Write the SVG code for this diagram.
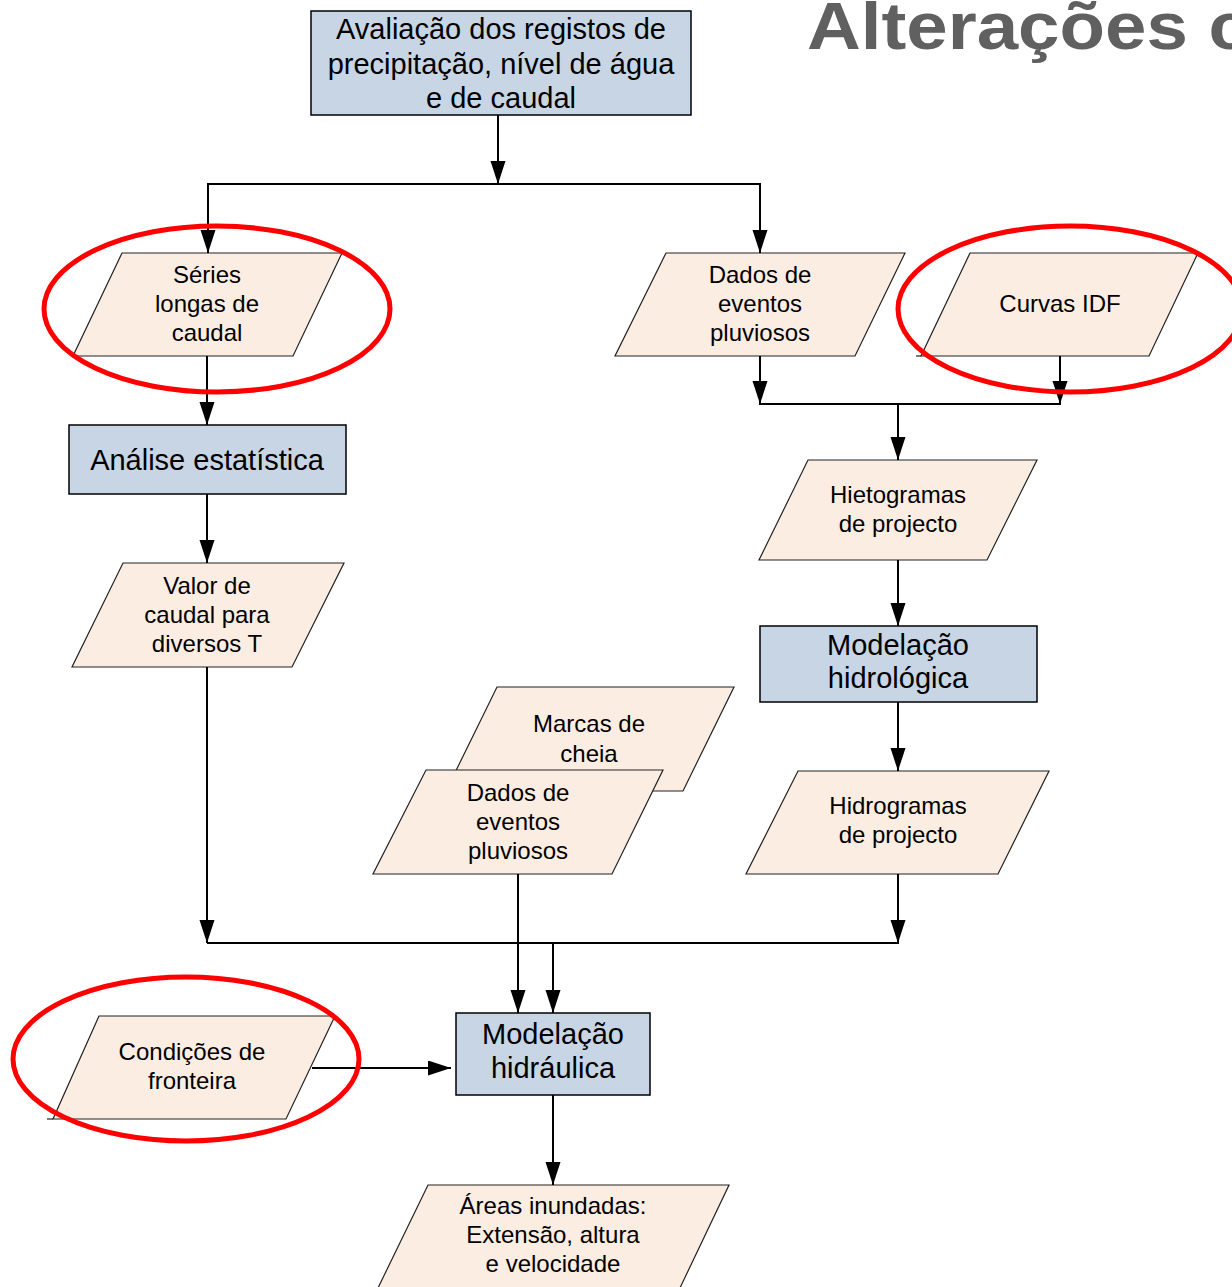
<svg xmlns="http://www.w3.org/2000/svg" width="1232" height="1287" viewBox="0 0 1232 1287">
<defs>
<marker id="arr" markerUnits="userSpaceOnUse" markerWidth="24" markerHeight="16" refX="23" refY="7.5" orient="auto">
<path d="M0,0 L23,7.5 L0,15 z" fill="#000"/>
</marker>
<style>
.box{fill:#c8d5e5;stroke:#000;stroke-width:1.5}
.para{fill:#fcede2;stroke:#222;stroke-width:1.2}
.stub{stroke:#222;stroke-width:1.2}
.bt{font-family:"Liberation Sans",Arial,sans-serif;font-size:29px;fill:#000;text-anchor:middle}
.pt{font-family:"Liberation Sans",Arial,sans-serif;font-size:24px;fill:#000;text-anchor:middle}
.con{fill:none;stroke:#000;stroke-width:2}
.ring{fill:none;stroke:#ff0000;stroke-width:5}
.title{font-family:"Liberation Sans",Arial,sans-serif;font-weight:bold;font-size:66px;fill:#606060}
</style>
</defs>
<rect width="1232" height="1287" fill="#fff"/>
<text class="title" x="807" y="49" textLength="443" lengthAdjust="spacingAndGlyphs">Alterações c</text>

<g id="n-avaliacao">
<rect class="box" x="311" y="11" width="380" height="104"/>
<text class="bt" x="501" y="39">Avaliação dos registos de</text>
<text class="bt" x="501" y="74">precipitação, nível de água</text>
<text class="bt" x="501" y="108">e de caudal</text>
</g>

<g id="n-series">
<polygon class="para" points="122,253 342,253 293,356 73,356"/>
<text class="pt" x="207" y="283">Séries</text>
<text class="pt" x="207" y="312">longas de</text>
<text class="pt" x="207" y="341">caudal</text>
</g>

<g id="n-dados1">
<polygon class="para" points="666,253 905,253 855,356 615,356"/>
<text class="pt" x="760" y="283">Dados de</text>
<text class="pt" x="760" y="312">eventos</text>
<text class="pt" x="760" y="341">pluviosos</text>
</g>

<g id="n-curvas">
<polygon class="para" points="970,253 1198,253 1149,356 921,356"/>
<line class="stub" x1="916" y1="356" x2="921" y2="356"/>
<text class="pt" x="1060" y="312">Curvas IDF</text>
</g>

<g id="n-analise">
<rect class="box" x="69" y="425" width="277" height="69"/>
<text class="bt" x="207" y="470">Análise estatística</text>
</g>

<g id="n-valor">
<polygon class="para" points="123,563 344,563 292,667 72,667"/>
<text class="pt" x="207" y="594">Valor de</text>
<text class="pt" x="207" y="623">caudal para</text>
<text class="pt" x="207" y="652">diversos T</text>
</g>

<g id="n-hietogramas">
<polygon class="para" points="808,460 1037,460 987,560 759,560"/>
<text class="pt" x="898" y="503">Hietogramas</text>
<text class="pt" x="898" y="532">de projecto</text>
</g>

<g id="n-modhidrologica">
<rect class="box" x="760" y="626" width="277" height="76"/>
<text class="bt" x="898" y="655">Modelação</text>
<text class="bt" x="898" y="688">hidrológica</text>
</g>

<g id="n-marcas">
<polygon class="para" points="497,687 734,687 683,791 446,791"/>
<text class="pt" x="589" y="732">Marcas de</text>
<text class="pt" x="589" y="762">cheia</text>
</g>

<g id="n-dados2">
<polygon class="para" points="426,770 663,770 612,874 373,874"/>
<text class="pt" x="518" y="801">Dados de</text>
<text class="pt" x="518" y="830">eventos</text>
<text class="pt" x="518" y="859">pluviosos</text>
</g>

<g id="n-hidrogramas">
<polygon class="para" points="798,771 1049,771 998,874 746,874"/>
<text class="pt" x="898" y="814">Hidrogramas</text>
<text class="pt" x="898" y="843">de projecto</text>
</g>

<g id="n-condicoes">
<polygon class="para" points="99,1016 335,1016 286,1119 53,1119"/>
<line class="stub" x1="47" y1="1119" x2="53" y2="1119"/>
<text class="pt" x="192" y="1060">Condições de</text>
<text class="pt" x="192" y="1089">fronteira</text>
</g>

<g id="n-modhidraulica">
<rect class="box" x="456" y="1013" width="194" height="82"/>
<text class="bt" x="553" y="1044">Modelação</text>
<text class="bt" x="553" y="1078">hidráulica</text>
</g>

<g id="n-areas">
<polygon class="para" points="428,1185 729,1185 679,1290 377,1290"/>
<text class="pt" x="553" y="1214">Áreas inundadas:</text>
<text class="pt" x="553" y="1243">Extensão, altura</text>
<text class="pt" x="553" y="1272">e velocidade</text>
</g>

<g id="connectors">
<path class="con" d="M498,115 V184" marker-end="url(#arr)"/>
<path class="con" d="M207,184 H761"/>
<path class="con" d="M208,184 V253" marker-end="url(#arr)"/>
<path class="con" d="M760,184 V253" marker-end="url(#arr)"/>
<path class="con" d="M207,356 V425" marker-end="url(#arr)"/>
<path class="con" d="M207,494 V563" marker-end="url(#arr)"/>
<path class="con" d="M207,667 V943" marker-end="url(#arr)"/>
<path class="con" d="M207,943 H899"/>
<path class="con" d="M760,356 V404" marker-end="url(#arr)"/>
<path class="con" d="M1060,356 V404" marker-end="url(#arr)"/>
<path class="con" d="M759,404 H1061"/>
<path class="con" d="M898,404 V460" marker-end="url(#arr)"/>
<path class="con" d="M898,560 V626" marker-end="url(#arr)"/>
<path class="con" d="M898,702 V771" marker-end="url(#arr)"/>
<path class="con" d="M898,874 V943" marker-end="url(#arr)"/>
<path class="con" d="M518,874 V1013" marker-end="url(#arr)"/>
<path class="con" d="M553,943 V1013" marker-end="url(#arr)"/>
<path class="con" d="M312,1068 H451" marker-end="url(#arr)"/>
<path class="con" d="M553,1095 V1185" marker-end="url(#arr)"/>
</g>

<g id="highlights">
<ellipse class="ring" cx="217" cy="309" rx="173" ry="83"/>
<ellipse class="ring" cx="1070" cy="309" rx="172" ry="83"/>
<ellipse class="ring" cx="186" cy="1059" rx="173" ry="82"/>
</g>
</svg>
